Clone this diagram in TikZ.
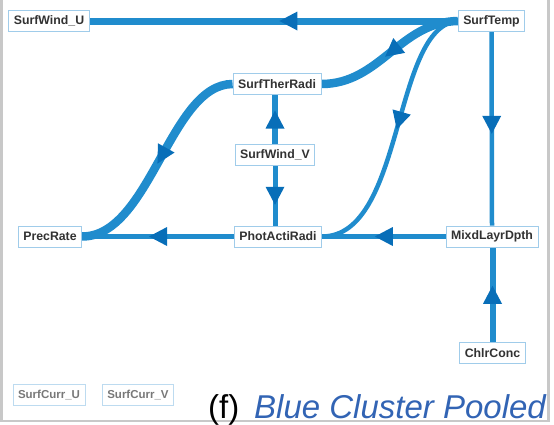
\documentclass[tikz,border=0pt]{standalone}
\usepackage{fontspec}
\setmainfont{Liberation Sans}
\usetikzlibrary{decorations.markings,calc}
\definecolor{edgecol}{RGB}{32,140,205}
\definecolor{tipcol}{RGB}{8,110,184}
\definecolor{boxcol}{RGB}{160,204,234}
\definecolor{txtcol}{RGB}{50,50,50}
\definecolor{fadetxt}{RGB}{120,120,120}
\definecolor{capblue}{RGB}{50,100,180}
\definecolor{framecol}{RGB}{200,200,200}
\pgfdeclarelayer{bg}
\pgfsetlayers{bg,main}
\tikzset{
  var/.style={draw=boxcol, line width=0.9pt, fill=white, text=txtcol,
    font=\bfseries\fontsize{12.3}{13}\selectfont, inner xsep=5pt, inner ysep=0pt,
    minimum height=21pt},
  faded/.style={text=fadetxt, draw=boxcol!70, font=\bfseries\fontsize{11.5}{12}\selectfont},
  link/.style={draw=edgecol, postaction={decorate},
    decoration={markings, mark=at position #1 with
      {\fill[tipcol] (9pt,0pt) -- (-9pt,9.5pt) -- (-9pt,-9.5pt) -- cycle;}}},
  link/.default=0.5,
  captext/.style={anchor=base west, inner sep=0pt, font=\fontsize{33}{36}\selectfont}
}
\begin{document}
\begin{tikzpicture}[x=1pt,y=-1pt]
\useasboundingbox (0,0) rectangle (554,424);
\draw[framecol, line width=2.5pt] (1.5,0) -- (1.5,421) -- (548.5,421) -- (548.5,0);

\node[var] (wu) at (49,21) {SurfWind\_U};
\node[var] (st) at (491.5,21) {SurfTemp};
\node[var] (str) at (277,84) {SurfTherRadi};
\node[var] (wv) at (275,155) {SurfWind\_V};
\node[var] (pr) at (50,236.5) {PrecRate};
\node[var] (par) at (278,236.5) {PhotActiRadi};
\node[var] (mld) at (492,236.5) {MixdLayrDpth};
\node[var] (cc) at (492.5,353) {ChlrConc};
\node[var,faded] (cu) at (49,395) {SurfCurr\_U};
\node[var,faded] (cv) at (138,395) {SurfCurr\_V};

\begin{pgfonlayer}{bg}
\draw[link=0.46, line width=7pt] (st.west) -- (wu.east);
\draw[link=0.48, line width=8.5pt] (st.west) .. controls (400,22) and (380,84) .. (str.east);
\draw[link=0.45, line width=4.5pt] (st.west) .. controls (392,26) and (405,236.5) .. (par.east);
\draw[link=0.48, line width=4.5pt] (st.south) -- (mld.north);
\draw[link=0.47, line width=8.5pt] (str.west) .. controls (170,84) and (150,236.5) .. (pr.east);
\draw[link, line width=6pt] (wv.north) -- (wv.north |- str.south);
\draw[link, line width=5pt] (wv.south) -- (wv.south |- par.north);
\draw[link, line width=5pt] (par.west) -- (pr.east);
\draw[link, line width=5pt] (mld.west) -- (par.east);
\draw[link, line width=6pt] (cc.north) -- (cc.north |- mld.south);
\end{pgfonlayer}

\node[captext] (fl) at (208,418.5) {(f)};
\node[captext, font=\itshape\fontsize{33}{36}\selectfont, text=capblue] (cap) at (254,418.5) {Blue Cluster Pooled};
\end{tikzpicture}
\end{document}
